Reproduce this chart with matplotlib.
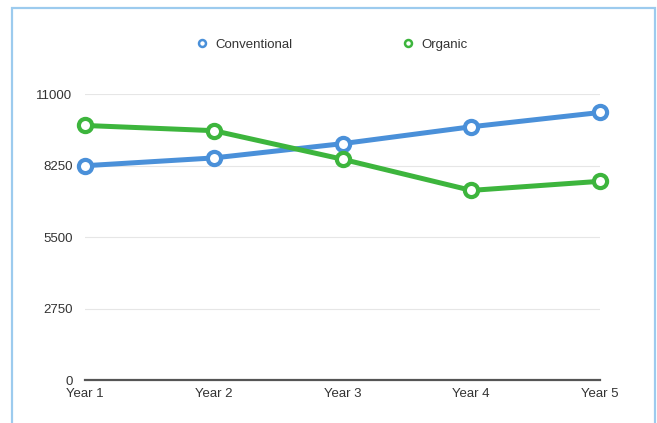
import matplotlib
matplotlib.use("Agg")
import matplotlib.pyplot as plt
from matplotlib.lines import Line2D
from matplotlib.patches import Rectangle

categories = ["Year 1", "Year 2", "Year 3", "Year 4", "Year 5"]
conventional = [8250, 8550, 9100, 9750, 10300]
organic = [9800, 9600, 8500, 7300, 7650]
yticks = [0, 2750, 5500, 8250, 11000]

blue = "#4A90D9"
green = "#3DB53D"
plt.rcParams["font.family"] = ["Liberation Sans", "DejaVu Sans"]

fig = plt.figure(figsize=(6.57, 4.23), dpi=100)
ax = fig.add_axes([85/657, 1-380/423, (600-85)/657, (380-94.3)/423])

x = list(range(len(categories)))
for vals, c, lab in [(conventional, blue, "Conventional"), (organic, green, "Organic")]:
    ax.plot(x, vals, color=c, lw=3.6, marker="o", ms=9.5, mfc="white", mec=c,
            mew=3.0, clip_on=False, zorder=3, solid_capstyle="round", label=lab)

ax.set_xlim(0, len(categories)-1)
ax.set_ylim(0, 11000)
ax.set_yticks(yticks)
ax.set_yticklabels([str(v) for v in yticks])
ax.set_xticks(x)
ax.set_xticklabels(categories)
ax.tick_params(axis="both", length=0, labelsize=9.5, colors="#333333")
ax.tick_params(axis="y", pad=9)
ax.tick_params(axis="x", pad=6)
ax.grid(axis="y", color="#E6E6E6", lw=0.8)
ax.set_axisbelow(True)
for s in ["top", "right", "left"]:
    ax.spines[s].set_visible(False)
ax.spines["bottom"].set_color("#555555")
ax.spines["bottom"].set_linewidth(1.6)
ax.spines["bottom"].set_zorder(4)

handles = [Line2D([], [], ls="none", marker="o", ms=5, mfc="white", mec=blue, mew=1.8),
           Line2D([], [], ls="none", marker="o", ms=5, mfc="white", mec=green, mew=1.8)]
fig.legend(handles, ["Conventional", "Organic"], ncol=2, frameon=False,
           loc="center", bbox_to_anchor=(332/657, 1-45/423), fontsize=9.5,
           handlelength=0.8, handletextpad=0.6, columnspacing=8.4,
           labelcolor="#333333")

fig.add_artist(Rectangle((12/657, -0.1), (655-12)/657, 1.1-8/423,
                         transform=fig.transFigure, fill=False,
                         edgecolor="#9CCBEE", lw=1.6, clip_on=False))

fig.savefig("out.png", dpi=100)
